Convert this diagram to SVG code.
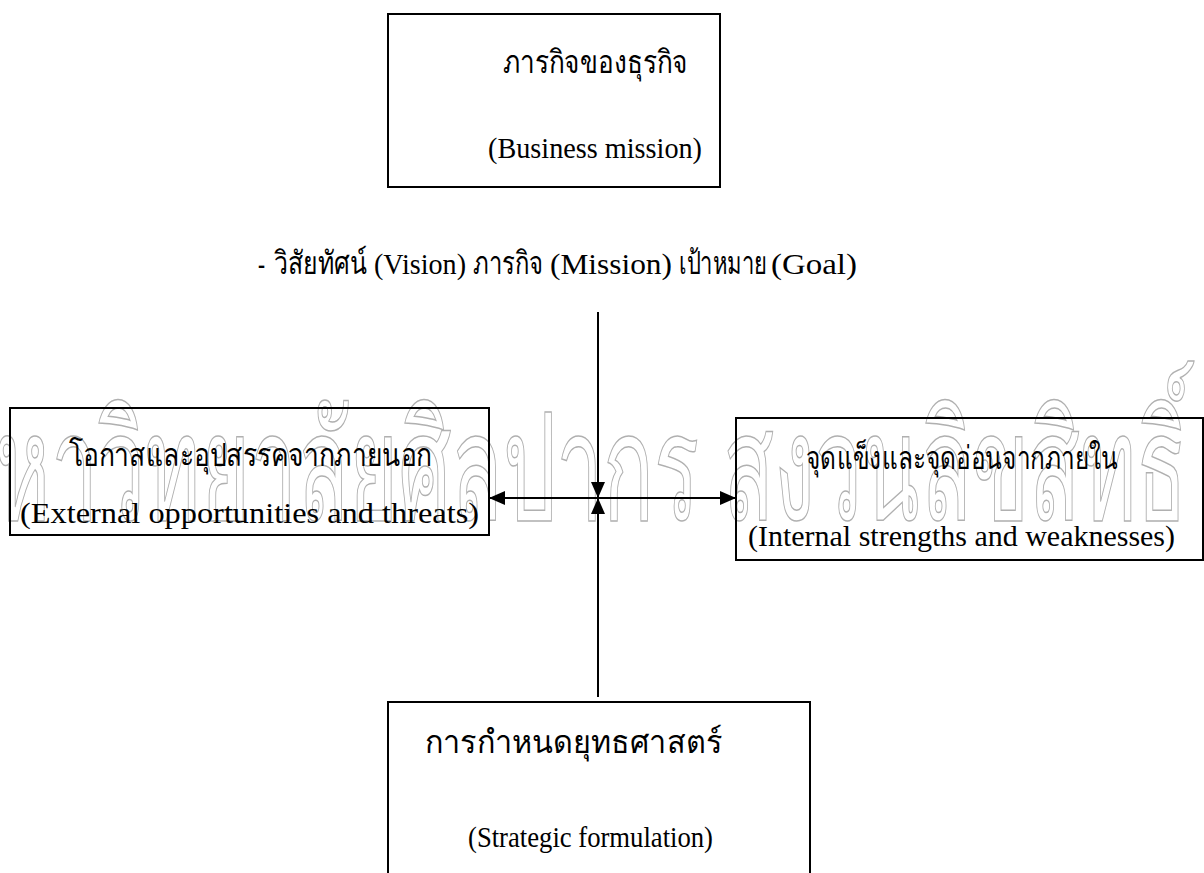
<svg xmlns="http://www.w3.org/2000/svg" width="1204" height="873" viewBox="0 0 1204 873">
<style>
.box{fill:none;stroke:#000;stroke-width:2}
.th{font-family:"Liberation Serif","DejaVu Serif","Noto Sans",serif;font-size:32px;fill:#000}
.en{font-family:"Liberation Serif",serif;font-size:30px;fill:#000}
.wm{font-family:"Liberation Sans","DejaVu Sans","Noto Sans",sans-serif;font-size:150px;fill:none;stroke:#b0b0b0;stroke-width:1.5}
.ln{stroke:#000;stroke-width:2;fill:none}
</style>
<defs>
<marker id="ah" markerUnits="userSpaceOnUse" markerWidth="16" markerHeight="14" refX="16" refY="7" orient="auto">
<path d="M0,0 L16,7 L0,14 Z" fill="#000"/>
</marker>
</defs>
<text class="wm" x="-60" y="520" textLength="1248" lengthAdjust="spacingAndGlyphs">มหาวิทยาลัยศิลปากร สงวนลิขสิทธิ์</text>
<g id="mission">
<rect class="box" x="388" y="14" width="332" height="173"/>
<text class="th" x="503" y="73" textLength="185" lengthAdjust="spacingAndGlyphs">ภารกิจของธุรกิจ</text>
<text class="en" x="488" y="158" textLength="214" lengthAdjust="spacingAndGlyphs">(Business mission)</text>
</g>
<g id="subtitle">
<text class="th" x="258" y="274" textLength="7" lengthAdjust="spacingAndGlyphs">-</text>
<text class="th" x="274" y="274" textLength="93" lengthAdjust="spacingAndGlyphs">วิสัยทัศน์</text>
<text class="en" x="374" y="274" textLength="92" lengthAdjust="spacingAndGlyphs">(Vision)</text>
<text class="th" x="473" y="274" textLength="70" lengthAdjust="spacingAndGlyphs">ภารกิจ</text>
<text class="en" x="550" y="274" textLength="122" lengthAdjust="spacingAndGlyphs">(Mission)</text>
<text class="th" x="679" y="274" textLength="88" lengthAdjust="spacingAndGlyphs">เป้าหมาย</text>
<text class="en" x="771" y="274" textLength="86" lengthAdjust="spacingAndGlyphs">(Goal)</text>
</g>
<g id="external">
<rect class="box" x="10" y="408" width="479" height="127"/>
<text class="th" x="69" y="466" textLength="363" lengthAdjust="spacingAndGlyphs">โอกาสและอุปสรรคจากภายนอก</text>
<text class="en" x="20" y="523" textLength="459" lengthAdjust="spacingAndGlyphs">(External opportunities and threats)</text>
</g>
<g id="internal">
<rect class="box" x="736" y="418" width="467" height="142"/>
<text class="th" x="806" y="469" textLength="312" lengthAdjust="spacingAndGlyphs">จุดแข็งและจุดอ่อนจากภายใน</text>
<text class="en" x="748" y="546" textLength="427" lengthAdjust="spacingAndGlyphs">(Internal strengths and weaknesses)</text>
</g>
<g id="strategy">
<rect class="box" x="388" y="702" width="422" height="180"/>
<text class="th" x="425" y="753" textLength="297" lengthAdjust="spacingAndGlyphs">การกำหนดยุทธศาสตร์</text>
<text class="en" x="468" y="847" textLength="245" lengthAdjust="spacingAndGlyphs">(Strategic formulation)</text>
</g>
<g id="connectors">
<line class="ln" x1="598" y1="312" x2="598" y2="498" marker-end="url(#ah)"/>
<line class="ln" x1="598" y1="697" x2="598" y2="498" marker-end="url(#ah)"/>
<line class="ln" x1="598" y1="498" x2="489" y2="498" marker-end="url(#ah)"/>
<line class="ln" x1="598" y1="498" x2="736" y2="498" marker-end="url(#ah)"/>
</g>
</svg>
